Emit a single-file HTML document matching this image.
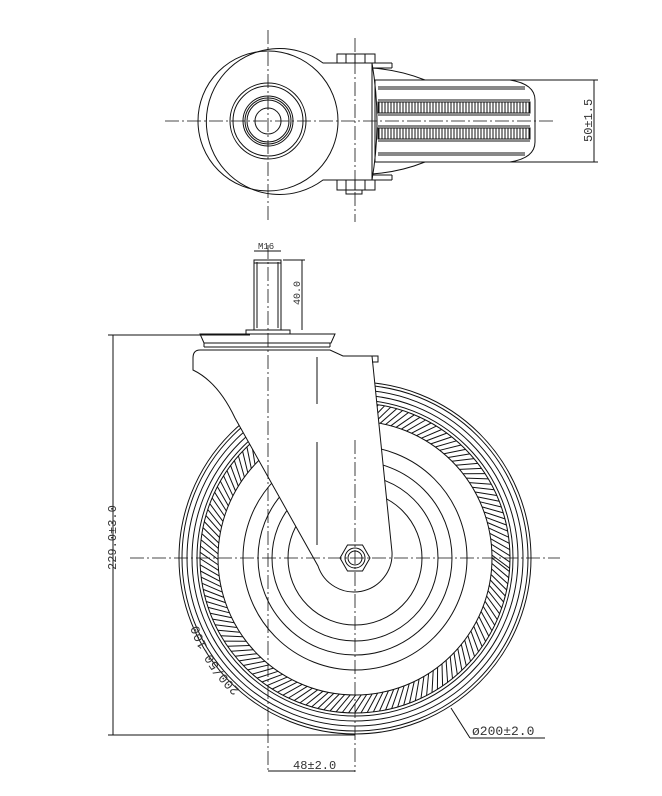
<!DOCTYPE html>
<html><head><meta charset="utf-8"><style>
html,body{margin:0;padding:0;background:#fff}
svg{display:block}
text{font-family:"Liberation Mono","DejaVu Sans Mono",monospace;fill:#333;stroke:none}
</style></head><body>
<svg id="s" width="662" height="796" viewBox="0 0 662 796" xmlns="http://www.w3.org/2000/svg" fill="none" stroke="#111" stroke-width="1">
<defs>
<pattern id="vt" width="3" height="10" patternUnits="userSpaceOnUse"><line x1="1" y1="0" x2="1" y2="10" stroke="#111" stroke-width="1"/></pattern>
<path id="arcT" d="M240,690 A160,160 0 0 1 190,585"/>
</defs>

<!-- ===== TOP VIEW ===== -->
<g>
<path d="M375,80 L510,80 Q535,84 535,100 L535,142 Q535,158 510,162 L375,162 Z" fill="#fff"/>
<line x1="378" y1="87" x2="525" y2="87"/><line x1="378" y1="89" x2="525" y2="89"/>
<line x1="378" y1="153" x2="525" y2="153"/><line x1="378" y1="155" x2="525" y2="155"/>
<rect x="378" y="102" width="152" height="11" fill="url(#vt)"/>
<rect x="378" y="128" width="152" height="11" fill="url(#vt)"/>
<line x1="378" y1="100" x2="530" y2="100"/><line x1="378" y1="115" x2="530" y2="115"/>
<line x1="378" y1="126" x2="530" y2="126"/><line x1="378" y1="141" x2="530" y2="141"/>
<path d="M372,68 Q400,70 425,80"/><path d="M372,174 Q400,172 425,162"/>
<path d="M323,63 A73,73 0 1 0 323,180 L372,180 L372,63 Z" fill="#fff"/>
<path d="M372,63 Q382,121 372,180"/>
<circle cx="268" cy="121" r="70"/>
<circle cx="268" cy="121" r="38"/><circle cx="268" cy="121" r="35"/>
<circle cx="268" cy="121" r="25"/><circle cx="268" cy="121" r="23"/><circle cx="268" cy="121" r="21"/>
<circle cx="268" cy="121" r="13"/>
<rect x="337" y="54" width="38" height="9" fill="#fff"/>
<line x1="346" y1="54" x2="346" y2="63"/><line x1="355" y1="54" x2="355" y2="63"/><line x1="365" y1="54" x2="365" y2="63"/>
<rect x="337" y="180" width="38" height="10" fill="#fff"/>
<line x1="346" y1="180" x2="346" y2="190"/><line x1="355" y1="180" x2="355" y2="190"/><line x1="365" y1="180" x2="365" y2="190"/>
<rect x="346" y="190" width="16" height="4"/>
<line x1="375" y1="63" x2="392" y2="63"/><line x1="392" y1="63" x2="392" y2="68"/><line x1="372" y1="68" x2="392" y2="68"/>
<line x1="375" y1="180" x2="392" y2="180"/><line x1="392" y1="175" x2="392" y2="180"/><line x1="372" y1="175" x2="392" y2="175"/>
<g stroke-dasharray="14,3,2,3" stroke-width="0.8">
<line x1="165" y1="121" x2="555" y2="121"/>
<line x1="268" y1="30" x2="268" y2="220"/>
<line x1="355" y1="38" x2="355" y2="222"/>
</g>
<line x1="500" y1="80" x2="598" y2="80"/><line x1="500" y1="162" x2="598" y2="162"/>
<line x1="594" y1="80" x2="594" y2="162"/>
<text x="0" y="0" font-size="12" transform="translate(592,142) rotate(-90)">50±1.5</text>
</g>

<!-- ===== FRONT VIEW ===== -->
<g id="wheel">
<circle cx="355" cy="558" r="176"/>
<circle cx="355" cy="558" r="173"/>
<circle cx="355" cy="558" r="168"/>
<circle cx="355" cy="558" r="163"/>
<circle cx="355" cy="558" r="158"/>
<circle cx="355" cy="558" r="155"/>
<circle cx="355" cy="558" r="137"/>
<g id="hatch"></g>
<circle cx="355" cy="558" r="112"/>
<circle cx="355" cy="558" r="97"/>
<circle cx="355" cy="558" r="83"/>
<circle cx="355" cy="558" r="67"/>
</g>
<path d="M193,358 Q193,350 200,350 L330,350 L343,356 L372,356 L392,552 A38,38 0 0 1 318,566 L235,418 Q218,382 193,370 Z" fill="#fff"/>
<line x1="317" y1="357" x2="317" y2="404"/><line x1="317" y1="442" x2="317" y2="545"/>
<path d="M343,356 L378,356 L378,362 L372,362"/>
<path d="M200,334 L335,334 L331,343 L204,343 Z" fill="#fff"/>
<line x1="204" y1="347" x2="330" y2="347"/><line x1="204" y1="343" x2="204" y2="347"/><line x1="330" y1="343" x2="330" y2="347"/>
<rect x="246" y="330" width="44" height="4" fill="#fff"/>
<rect x="254" y="260" width="27" height="70" fill="#fff"/>
<line x1="257" y1="262" x2="257" y2="328"/><line x1="278" y1="262" x2="278" y2="328"/>
<line x1="254" y1="263" x2="281" y2="263"/>
<polygon points="370,558 362.5,545 347.5,545 340,558 347.5,571 362.5,571" fill="#fff"/>
<circle cx="355" cy="558" r="10"/><circle cx="355" cy="558" r="7"/>
<g stroke-dasharray="14,3,2,3" stroke-width="0.8">
<line x1="130" y1="558" x2="560" y2="558"/>
<line x1="268" y1="245" x2="268" y2="772"/>
<line x1="355" y1="440" x2="355" y2="772"/>
</g>
<text font-size="13"><textPath href="#arcT">200/50-100</textPath></text>
<line x1="108" y1="335" x2="250" y2="335"/>
<line x1="108" y1="735" x2="355" y2="735"/>
<line x1="113" y1="335" x2="113" y2="735"/>
<text font-size="12" transform="translate(116,570) rotate(-90)">229.0±3.0</text>
<line x1="268" y1="771" x2="355" y2="771"/>
<text x="293" y="769" font-size="12">48±2.0</text>
<line x1="451" y1="708" x2="470" y2="738"/><line x1="470" y1="738" x2="545" y2="738"/>
<text x="472" y="735" font-size="13">ø200±2.0</text>
<line x1="254" y1="251" x2="281" y2="251"/>
<text x="258" y="249" font-size="9">M16</text>
<line x1="302" y1="260" x2="302" y2="330"/>
<line x1="283" y1="260" x2="305" y2="260"/>
<text font-size="10" transform="translate(300,305) rotate(-90)">40.0</text>
</svg>
<script>
(function(){var g=document.getElementById('hatch'),s='',cx=355,cy=558;
for(var a=0;a<360;a+=2.3){var r1=a*Math.PI/180,r2=(a+5)*Math.PI/180;
s+='<line x1="'+(cx+137*Math.cos(r1)).toFixed(1)+'" y1="'+(cy+137*Math.sin(r1)).toFixed(1)+'" x2="'+(cx+155*Math.cos(r2)).toFixed(1)+'" y2="'+(cy+155*Math.sin(r2)).toFixed(1)+'"/>';}
g.innerHTML=s;})();
</script>
</body></html>
